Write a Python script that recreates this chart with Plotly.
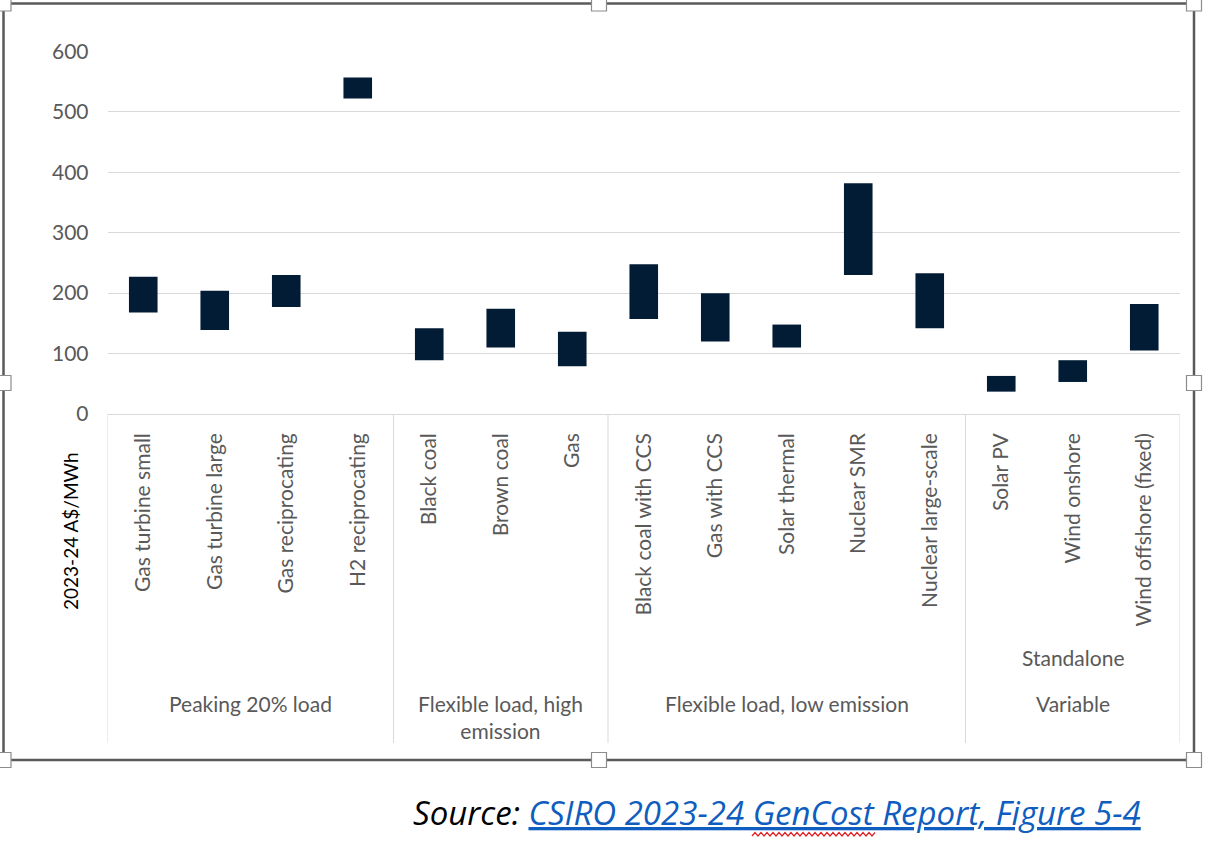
import plotly.graph_objects as go

# ---------------- data ----------------
categories = [
    "Gas turbine small", "Gas turbine large", "Gas reciprocating", "H2 reciprocating",
    "Black coal", "Brown coal", "Gas",
    "Black coal with CCS", "Gas with CCS", "Solar thermal", "Nuclear SMR", "Nuclear large-scale",
    "Solar PV", "Wind onshore", "Wind offshore (fixed)",
]
low_values = [168, 139, 177, 522, 89, 110, 79, 157, 120, 110, 230, 142, 37, 53, 105]
high_values = [227, 204, 230, 557, 142, 174, 136, 248, 200, 148, 382, 233, 63, 89, 182]

group_names = ["Peaking 20% load", "Flexible load, high<br>emission",
               "Flexible load, low emission", "Variable"]
group_sizes = [4, 3, 5, 3]
subgroup_names = ["", "", "", "Standalone"]

y_ticks = [0, 100, 200, 300, 400, 500, 600]
y_title = "2023-24 A$/MWh"
source_prefix = "Source: "
source_link = "CSIRO 2023-24 GenCost Report, Figure 5-4"

# ---------------- geometry helpers ----------------
W, H = 1208, 850
def px(x):
    return x / W
def py(y):
    return 1 - y / H

FONT = "Lato, 'Open Sans', sans-serif"
GRAY = "#595959"
GRID = "#D9D9D9"
BAR = "#021C35"

spans = [h - l for h, l in zip(high_values, low_values)]

fig = go.Figure()
fig.add_trace(go.Bar(
    x=categories, y=spans, base=low_values,
    marker=dict(color=BAR, line=dict(width=0)),
    width=0.4, hoverinfo="x+y",
))

shapes = []
annotations = []

# group separators and labels
bounds = [0]
for s in group_sizes:
    bounds.append(bounds[-1] + s)
for b in bounds:
    shapes.append(dict(type="line", xref="x", yref="paper",
                       x0=b - 0.5, x1=b - 0.5, y0=py(414), y1=py(743),
                       line=dict(color=GRID, width=1)))
for i, (name, sub) in enumerate(zip(group_names, subgroup_names)):
    c = (bounds[i] + bounds[i + 1] - 1) / 2
    annotations.append(dict(xref="x", yref="paper", x=c, y=py(689),
                            text=name, showarrow=False, yanchor="top",
                            xanchor="center", align="center",
                            font=dict(family=FONT, size=21, color=GRAY)))
    if sub:
        annotations.append(dict(xref="x", yref="paper", x=c, y=py(657),
                                text=sub, showarrow=False, yanchor="middle",
                                xanchor="center",
                                font=dict(family=FONT, size=21, color=GRAY)))

# y-axis title
annotations.append(dict(xref="paper", yref="paper", x=px(70), y=py(531),
                        text=y_title, textangle=-90, showarrow=False,
                        xanchor="center", yanchor="middle",
                        font=dict(family=FONT, size=19, color="#000000")))

# source line
annotations.append(dict(
    xref="paper", yref="paper", x=px(777), y=py(812),
    xanchor="center", yanchor="middle", showarrow=False,
    text=("<i>" + source_prefix +
          "<a href='https://www.csiro.au/'><span style='color:#0F5DBE'><u>" +
          source_link + "</u></span></a></i>"),
    font=dict(family="'Open Sans', sans-serif", size=33, color="#000000")))

# frame border
shapes.append(dict(type="rect", xref="paper", yref="paper",
                   x0=px(3.5), x1=px(1194), y0=py(760), y1=py(3.5),
                   line=dict(color="#5A5A5A", width=2.5), fillcolor="rgba(0,0,0,0)"))
# selection handles
for hx, hy in [(3.5, 3.5), (599, 3.5), (1194, 3.5), (3.5, 383), (1194, 383),
               (3.5, 760), (599, 760), (1194, 760)]:
    shapes.append(dict(type="rect", xref="paper", yref="paper",
                       x0=px(hx - 7.5), x1=px(hx + 7.5), y0=py(hy + 7.5), y1=py(hy - 7.5),
                       line=dict(color="#8C8C8C", width=1.2), fillcolor="white"))

# red spell-check squiggle under "GenCost" (decoration path)
pts = []
xx = 752.0
k = 0
while xx <= 876:
    pts.append((px(xx), py(836 if k % 2 == 0 else 832.5)))
    xx += 3
    k += 1
path = "M " + " L ".join("%.5f %.5f" % p for p in pts)
shapes.append(dict(type="path", xref="paper", yref="paper", path=path,
                   line=dict(color="#E02020", width=1.2)))

fig.update_layout(
    width=W, height=H, autosize=False,
    template="none",
    margin=dict(l=0, r=0, t=0, b=0, pad=0),
    paper_bgcolor="white", plot_bgcolor="white",
    showlegend=False, bargap=0.6,
    shapes=shapes, annotations=annotations,
    xaxis=dict(domain=[px(107.5), px(1180)], type="category",
               range=[-0.5, len(categories) - 0.5], tickangle=-90,
               ticks="", showgrid=False, showline=False, zeroline=False,
               automargin=False, ticklabelstandoff=14,
               tickfont=dict(family=FONT, size=21, color=GRAY)),
    yaxis=dict(domain=[py(414), py(51.4)], range=[0, 600], tickvals=y_ticks,
               ticks="", showgrid=True, gridcolor=GRID, gridwidth=1,
               zeroline=True, zerolinecolor=GRID, zerolinewidth=1,
               showline=False, automargin=False, ticklabelstandoff=18,
               tickfont=dict(family=FONT, size=21, color=GRAY)),
)

fig.write_html("out.html", config={"displayModeBar": False},
               post_script="document.body.style.margin='0';document.body.style.overflow='hidden';")
